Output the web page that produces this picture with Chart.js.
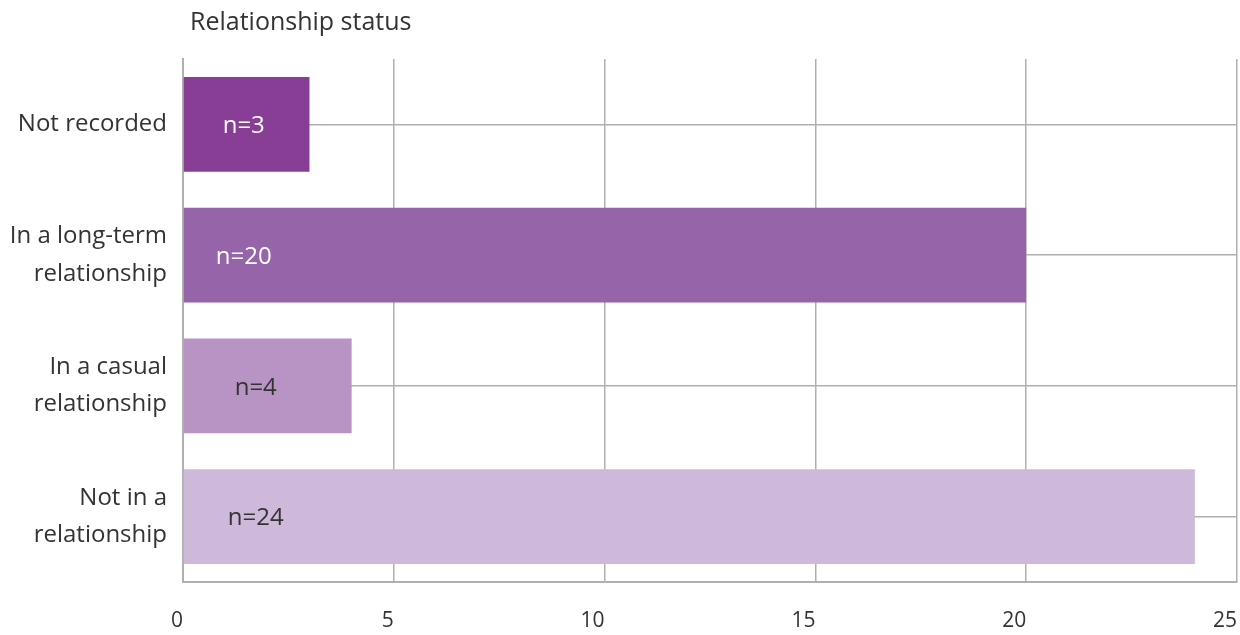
<!DOCTYPE html>
<html>
<head>
<meta charset="utf-8">
<script src="https://cdn.jsdelivr.net/npm/chart.js@4/dist/chart.umd.min.js"></script>
<style>
  html, body { margin: 0; padding: 0; background: #fff; }
  #wrap { width: 1240px; height: 635px; }
</style>
</head>
<body>
<div id="wrap"><canvas id="myChart"></canvas></div>
<script>
const categories = [
  'Not recorded',
  ['In a long-term', 'relationship'],
  ['In a casual', 'relationship'],
  ['Not in a', 'relationship']
];
const counts = [3, 20, 4, 24];
const xTicks = [0, 5, 10, 15, 20, 25];
const chartTitle = 'Relationship status';

const barColors = ['#873e94', '#9664a8', '#b794c4', '#cfb9da'];
const labelColors = ['#ffffff', '#ffffff', '#333333', '#333333'];
const labelInset = [60, 60, 72, 72];
const fontFamily = '"Open Sans", "Noto Sans", sans-serif';
const gridGray = '#b0b0b0';

// title above the plot and "n=" labels inside each bar
const barText = {
  id: 'barText',
  afterDatasetsDraw(chart) {
    const ctx = chart.ctx;
    const meta = chart.getDatasetMeta(0);
    ctx.save();
    ctx.font = '24px ' + fontFamily;
    ctx.textAlign = 'center';
    ctx.textBaseline = 'middle';
    meta.data.forEach((bar, i) => {
      ctx.fillStyle = labelColors[i];
      ctx.fillText('n=' + counts[i], bar.base + labelInset[i], bar.y + 2);
    });
    ctx.fillStyle = '#333333';
    ctx.textAlign = 'left';
    ctx.font = '25px ' + fontFamily;
    ctx.fillText(chartTitle, chart.chartArea.left + 7, 23);
    ctx.restore();
  }
};

const ctx = document.getElementById('myChart');
const chart = new Chart(ctx, {
  type: 'bar',
  data: {
    labels: categories,
    datasets: [{
      data: counts,
      backgroundColor: barColors,
      borderWidth: 0,
      barPercentage: 0.725,
      categoryPercentage: 1
    }]
  },
  options: {
    indexAxis: 'y',
    responsive: true,
    maintainAspectRatio: false,
    animation: false,
    layout: { padding: { top: 59, right: 3, left: 0, bottom: 0 } },
    plugins: {
      legend: { display: false },
      tooltip: { enabled: false },
      title: { display: false }
    },
    scales: {
      x: {
        min: 0,
        max: 25,
        afterBuildTicks: (scale) => { scale.ticks = xTicks.map(v => ({ value: v })); },
        afterFit: (scale) => {
          scale.height = 53;
          scale.paddingLeft = 0;
          scale.paddingRight = 0;
        },
        grid: { color: gridGray, lineWidth: 1.5, drawTicks: false },
        border: { color: gridGray, width: 2 },
        ticks: {
          align: 'end',
          padding: 26,
          color: '#333333',
          font: { family: fontFamily, size: 21 }
        }
      },
      y: {
        afterFit: (scale) => { scale.width = 183; },
        grid: { color: gridGray, lineWidth: 1.5, offset: false, drawTicks: false },
        border: { color: gridGray, width: 2 },
        ticks: {
          padding: 16,
          color: '#333333',
          font: { family: fontFamily, size: 24, lineHeight: 1.55 }
        }
      }
    }
  },
  plugins: [barText]
});
</script>
</body>
</html>
